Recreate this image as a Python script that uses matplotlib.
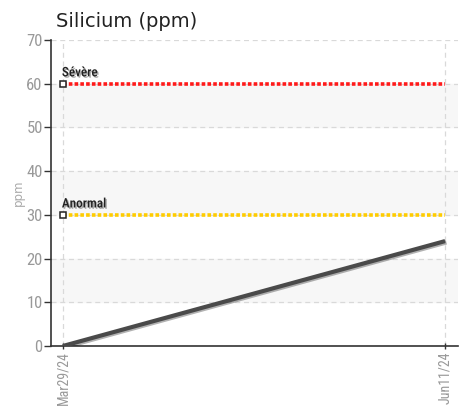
import matplotlib
matplotlib.use('Agg')
import matplotlib.pyplot as plt
import matplotlib.patheffects as pe
import matplotlib.dates as mdates
from datetime import datetime

# data
dates = [datetime(2024, 3, 29), datetime(2024, 6, 11)]
date_labels = ['Mar29/24', 'Jun11/24']
silicium = [0, 24]
limit_names = ['Sévère', 'Anormal']
limit_values = [60, 30]
limit_colors = ['#ff1a1a', '#ffcc00']

# condensed font for ticks and labels, DejaVu as fallback
cond = ['Roboto Condensed', 'Fira Sans Condensed', 'DejaVu Sans']

fig = plt.figure(figsize=(4.67, 4.12), dpi=100)
ax = fig.add_axes([51 / 467, 1 - 346 / 412, 407 / 467, 306 / 412])

x = mdates.date2num(dates)
ax.set_xlim(x[0] - 2.3, x[1] + 2.5)
ax.set_ylim(0, 70)

# alternating bands
for lo in range(10, 70, 20):
    ax.axhspan(lo, lo + 10, color='#f7f7f7', zorder=0)

ax.grid(True, color='#d9d9d9', linestyle=(0, (4, 3)), linewidth=0.9, zorder=1)

# threshold lines
for name, val, col in zip(limit_names, limit_values, limit_colors):
    ax.plot(x, [val, val], color=col, linestyle=(0, (1, 0.6)), linewidth=2.6, zorder=3)
    ax.plot(x[0], val, marker='s', markersize=5, markerfacecolor='white',
            markeredgecolor='#222222', markeredgewidth=1.1, zorder=5, clip_on=False)
    ax.text(x[0] - 0.2, val + 1.0, name, family=cond, fontsize=9.5, fontweight='medium',
            color='#222222', ha='left', va='bottom', zorder=6,
            path_effects=[pe.withSimplePatchShadow(offset=(1, -1), shadow_rgbFace='#888888', alpha=0.7)])

# main series
ax.plot(x, silicium, color='#4a4a4a', linewidth=3, solid_capstyle='butt', zorder=4,
        path_effects=[pe.SimpleLineShadow(offset=(1, -1), alpha=0.3), pe.Normal()])

ax.set_yticks(range(0, 71, 10))
ax.set_xticks(x)
ax.set_xticklabels(date_labels, rotation=90, family=cond, fontsize=10, color='#999999')
for lab in ax.get_yticklabels():
    lab.set_family(cond)
    lab.set_fontsize(12)
    lab.set_color('#999999')

ax.tick_params(axis='y', length=5, width=1, color='#333333', pad=1)
ax.tick_params(axis='x', length=4, width=1, color='#333333', direction='inout', pad=2)

for s in ['top', 'right']:
    ax.spines[s].set_visible(False)
for s in ['left', 'bottom']:
    ax.spines[s].set_color('#333333')
    ax.spines[s].set_linewidth(1.2)

ax.set_ylabel('ppm', fontsize=8.5, color='#aaaaaa', labelpad=1)
fig.text(56 / 467, 1 - 27 / 412, 'Silicium (ppm)', fontsize=14, color='#222222',
         ha='left', va='baseline')

fig.savefig('out.png', dpi=100)
